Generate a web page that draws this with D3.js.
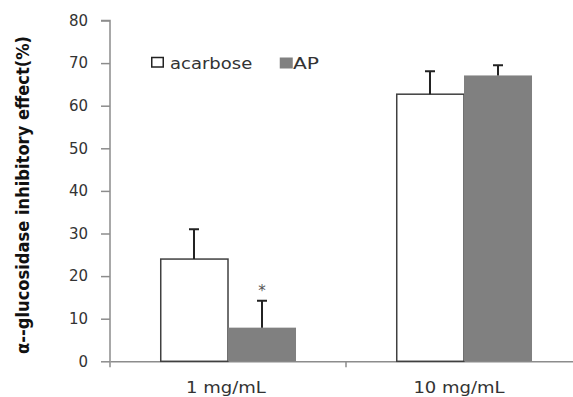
<!DOCTYPE html>
<html><head><meta charset="utf-8">
<script src="https://cdn.jsdelivr.net/npm/d3@7"></script>
<style>body{margin:0;background:#fff}svg{display:block}</style>
</head><body>
<svg id="c" width="573" height="397"></svg>
<script>
const categories = ["1 mg/mL", "10 mg/mL"];
const seriesNames = ["acarbose", "AP"];
const acarbose = [24.0, 62.7];
const acarboseErr = [7.0, 5.4];
const ap = [7.9, 67.1];
const apErr = [6.3, 2.4];
const apMarks = ["*", ""];
const yTicks = [0, 10, 20, 30, 40, 50, 60, 70, 80];
const yLabel = "α--glucosidase  inhibitory effect(%)";
const fills = {acarbose: "#ffffff", AP: "#808080"};

const svg = d3.select("#c");
const FONT = "DejaVu Sans, Verdana, sans-serif";
const mLeft = 110, mRight = 582, mTop = 20.5, mBottom = 361.3;
const y = d3.scaleLinear().domain([0, 80]).range([mBottom, mTop]);
const x0 = d3.scaleBand().domain(categories).range([mLeft, mRight]).padding(0);
const x1 = d3.scaleBand().domain(seriesNames).range([0, x0.bandwidth()]).paddingInner(0).paddingOuter(0.735);

const data = [];
categories.forEach((c, i) => {
  data.push({cat: c, s: "acarbose", v: acarbose[i], e: acarboseErr[i], m: ""});
  data.push({cat: c, s: "AP", v: ap[i], e: apErr[i], m: apMarks[i]});
});

// stretch text horizontally (reference text is wide)
function widen(sel, k) {
  sel.each(function () {
    const n = this;
    const w = n.getComputedTextLength();
    d3.select(n).attr("textLength", w * k).attr("lengthAdjust", "spacingAndGlyphs");
  });
}

const axisColor = "#8c8c8c";
const yAxis = svg.append("g").attr("transform", `translate(${mLeft},0)`)
  .call(d3.axisLeft(y).tickValues(yTicks).tickSize(9).tickPadding(13));
yAxis.select(".domain").attr("stroke", axisColor).attr("stroke-width", 1.5)
  .attr("d", `M-9,${mTop}H0V${mBottom + 6}`);
yAxis.selectAll(".tick line").attr("stroke", axisColor).attr("stroke-width", 1.5);
yAxis.selectAll(".tick text").attr("fill", "#333").style("font-family", FONT).style("font-size", "15px");

const xAxis = svg.append("g").attr("transform", `translate(0,${mBottom})`)
  .call(d3.axisBottom(x0).tickSize(0).tickPadding(0).tickFormat(""));
xAxis.select(".domain").attr("stroke", axisColor).attr("stroke-width", 1.5);
xAxis.selectAll(".tick").remove();
xAxis.selectAll("line.sep").data(categories.slice(1)).enter().append("line")
  .attr("x1", d => x0(d)).attr("x2", d => x0(d)).attr("y1", 0).attr("y2", 6)
  .attr("stroke", axisColor).attr("stroke-width", 1.5);
svg.selectAll("text.cat").data(categories).enter().append("text")
  .attr("x", (d, i) => x0(d) + x0.bandwidth() / 2 - 2 - 3 * i).attr("y", 393)
  .attr("text-anchor", "middle").attr("fill", "#333")
  .style("font-family", FONT).style("font-size", "15px")
  .text(d => d)
  .call(widen, 1.2);

const g = svg.append("g");
g.selectAll("rect.bar").data(data).enter().append("rect")
  .attr("x", d => x0(d.cat) + x1(d.s) + (d.s === "acarbose" ? 0.75 : 0))
  .attr("width", d => x1.bandwidth() - (d.s === "acarbose" ? 0.75 : 0))
  .attr("y", d => y(d.v))
  .attr("height", d => y(0) - y(d.v))
  .attr("fill", d => fills[d.s])
  .attr("stroke", d => d.s === "acarbose" ? "#404040" : "none")
  .attr("stroke-width", 1.5);

const capW = 10;
g.selectAll("path.err").data(data).enter().append("path")
  .attr("d", d => {
    const cx = x0(d.cat) + x1(d.s) + x1.bandwidth() / 2;
    const y0 = y(d.v), y1 = y(d.v + d.e);
    return `M${cx},${y0}V${y1}M${cx - capW / 2},${y1}H${cx + capW / 2}`;
  })
  .attr("stroke", "#222").attr("stroke-width", 2).attr("fill", "none");

g.selectAll("text.sig").data(data.filter(d => d.m)).enter().append("text")
  .attr("x", d => x0(d.cat) + x1(d.s) + x1.bandwidth() / 2)
  .attr("y", d => y(d.v + d.e) - 5)
  .attr("text-anchor", "middle").attr("fill", "#555")
  .style("font-family", FONT).style("font-size", "15px")
  .text(d => d.m);

const leg = svg.append("g");
const legPos = [{x: 151, tx: 170, k: 1.2}, {x: 279, tx: 293, k: 1.35}];
seriesNames.forEach((s, i) => {
  leg.append("rect").attr("x", legPos[i].x + 0.75).attr("y", 57.5)
    .attr("width", s === "AP" ? 13 : 11.5).attr("height", s === "AP" ? 11 : 9.5)
    .attr("fill", fills[s]).attr("stroke", s === "acarbose" ? "#222" : "none").attr("stroke-width", 1.5);
  leg.append("text").attr("x", legPos[i].tx).attr("y", 68.5).attr("fill", "#333")
    .style("font-family", FONT).style("font-size", "15px")
    .text(s)
    .call(widen, legPos[i].k);
});

svg.append("text").attr("transform", "translate(29,195) scale(1.2,1) rotate(-90)")
  .attr("text-anchor", "middle").attr("fill", "#111")
  .style("font-family", "DejaVu Sans, sans-serif").style("font-size", "14px").style("font-weight", "bold")
  .text(yLabel)
  .attr("textLength", 318).attr("lengthAdjust", "spacingAndGlyphs");
</script>
</body></html>
